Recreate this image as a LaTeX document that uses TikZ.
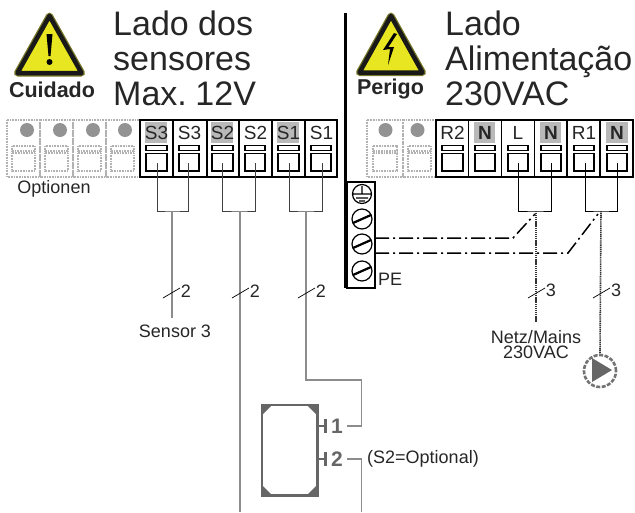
\documentclass[tikz,border=0pt]{standalone}
\usepackage{fontspec}
\setmainfont{Liberation Sans}
\definecolor{signyellow}{RGB}{232,230,32}
\definecolor{signedge}{RGB}{120,120,40}
\tikzset{%
	title/.style={inner sep=0pt,anchor=base west,font=\fontsize{34}{35}\selectfont,text=black!85},
	warning/.style={inner sep=0pt,font=\fontsize{21.5}{22}\selectfont\bfseries,text=black!85},
	small/.style={inner sep=0pt,font=\fontsize{18}{15}\selectfont,text=black!85},
	termlabel/.style={inner sep=0pt,font=\fontsize{19}{19}\selectfont,text=black!85},
	termcell/.style={black,line width=1.2pt},
	termframe/.style={black,line width=1.7pt},
	optcell/.style={gray!60,line width=1.6pt,dash pattern=on 1pt off 0.6pt},
	optdot/.style={fill=gray!85},
	graymark/.style={fill=gray!55},
	wire/.style={black!75,line width=1pt},
	stem/.style={gray!90,line width=1.2pt},
	livestem/.style={black!80,line width=1.6pt,dash pattern=on 1.2pt off 0.7pt},
	slash/.style={black,line width=0.7pt},
	earth/.style={black,line width=1.5pt,dash pattern=on 14pt off 4pt on 2pt off 4pt},
	sensorline/.style={black!60,line width=2.6pt},
	sign/.style={preaction={draw=signedge,line width=7pt,line join=round},fill=signyellow,draw=black!90,line width=4.5pt,line join=round},
}
\begin{document}
\begin{tikzpicture}[x=1pt,y=-1pt]
			\useasboundingbox (0,0) rectangle (635,512);
			
			%TITLES
			\node[title] (tla) at (113,35) {Lado dos};
			\node[title] (tlb) at (113,70) {sensores};
			\node[title] (tlc) at (113,105) {Max.\kern-4pt{} 12V};
			\node[title] (tra) at (445,35) {Lado};
			\node[title] (trb) at (445,70) {Alimentação};
			\node[title] (trc) at (445,105) {230VAC};
			
			%SIGNS
			\draw[sign] (49.5,16) -- (17.5,73) -- (81.5,73) -- cycle;
			\fill[black] (46.5,34) -- (52.5,34) -- (50.5,56) -- (48.5,56) -- cycle;
			\fill[black] (49.5,62) circle (3pt);
			\node[warning] (care) at (52,90) {Cuidado};
			\draw[sign] (391,16) -- (359.5,72.5) -- (422.5,72.5) -- cycle;
			\fill[black] (394,33) -- (383,50) -- (390,49) -- (388,65) -- (394,47) -- (388.5,47) -- (397,34) -- cycle;
			\node[warning] (danger) at (390.5,89) {Perigo};
			\draw[black,line width=3pt] (345.5,13) -- (345.5,288); %middle bar
			
			%OPTIONS LEFT
			\draw[optcell] (7,120) rectangle (40,177) (12,146) rectangle (35,151) (12,153) rectangle (35,171);
			\draw[optcell] (40,120) rectangle (73,177) (45,146) rectangle (68,151) (45,153) rectangle (68,171);
			\draw[optcell] (73,120) rectangle (106,177) (78,146) rectangle (101,151) (78,153) rectangle (101,171);
			\draw[optcell] (106,120) rectangle (140,177) (111,146) rectangle (134,151) (111,153) rectangle (134,171);
			\fill[optdot] (27,130) circle (7pt) (60,130) circle (7pt) (93,130) circle (7pt) (125,130) circle (7pt);
			\node[small] (options) at (54,189) {Optionen};
			
			%OPTIONS RIGHT
			\draw[optcell] (367,120) rectangle (403,177) (373,146) rectangle (397,151) (373,153) rectangle (397,171);
			\draw[optcell] (403,120) rectangle (436,177) (408,146) rectangle (431,151) (408,153) rectangle (431,171);
			\fill[optdot] (385.5,130) circle (7pt) (417.5,130) circle (7pt);
			
			%GRAY MARKS
			\fill[graymark] (145,122) rectangle (167,143);
			\fill[graymark] (211,122) rectangle (233,143);
			\fill[graymark] (277,122) rectangle (299,143);
			\fill[graymark] (474,122) rectangle (495,143);
			\fill[graymark] (540,122) rectangle (561,143);
			\fill[graymark] (606,122) rectangle (628,143);
			
			%SENSOR TERMINALS
			\draw[termframe] (140,120) rectangle (337.3,177) (173.3,120) -- (173.3,177) (206.7,120) -- (206.7,177) (239.3,120) -- (239.3,177) (271.7,120) -- (271.7,177) (305,120) -- (305,177);
			\draw[termcell] (146,145.5) rectangle (167,150.5) (146,153.5) rectangle (167,171);
			\draw[termcell] (179,145.5) rectangle (199,150.5) (179,153.5) rectangle (199,171);
			\draw[termcell] (212,145.5) rectangle (233,150.5) (212,153.5) rectangle (233,171);
			\draw[termcell] (245,145.5) rectangle (265,150.5) (245,153.5) rectangle (265,171);
			\draw[termcell] (278,145.5) rectangle (299,150.5) (278,153.5) rectangle (299,171);
			\draw[termcell] (311,145.5) rectangle (331,150.5) (311,153.5) rectangle (331,171);
			\node[termlabel] (sta) at (156.5,133) {S3};
			\node[termlabel] (stb) at (189.5,133) {S3};
			\node[termlabel] (ssa) at (222.5,133) {S2};
			\node[termlabel] (ssb) at (255.5,133) {S2};
			\node[termlabel] (soa) at (288.5,133) {S1};
			\node[termlabel] (sob) at (321.5,133) {S1};
			
			%POWER TERMINALS
			\draw[termframe] (436,120) rectangle (633,177) (468.5,120) -- (468.5,177) (501.5,120) -- (501.5,177) (534.5,120) -- (534.5,177) (567,120) -- (567,177) (600,120) -- (600,177);
			\draw[termcell] (442,145.5) rectangle (463,150.5) (442,153.5) rectangle (463,171);
			\draw[termcell] (475,145.5) rectangle (495,150.5) (475,153.5) rectangle (495,171);
			\draw[termcell] (508,145.5) rectangle (528,150.5) (508,153.5) rectangle (528,171);
			\draw[termcell] (541,145.5) rectangle (561,150.5) (541,153.5) rectangle (561,171);
			\draw[termcell] (574,145.5) rectangle (594,150.5) (574,153.5) rectangle (594,171);
			\draw[termcell] (607,145.5) rectangle (627,150.5) (607,153.5) rectangle (627,171);
			\node[termlabel] (rtwo) at (452.5,133) {R2};
			\node[termlabel] (nda) at (485,133) {\bfseries N};
			\node[termlabel] (line) at (518,133) {L};
			\node[termlabel] (ndb) at (551,133) {\bfseries N};
			\node[termlabel] (rone) at (584,133) {R1};
			\node[termlabel] (ndc) at (617,133) {\bfseries N};
			
			%PE STRIP
			\draw[black,line width=1.6pt] (347,182) rectangle (375,288);
			\draw[black,line width=1.2pt] (362,194) circle (9.5pt) (362,186) -- (362,194) (353,194) -- (371,194) (356,198) -- (368,198) (359,201) -- (365,201);
			\draw[black,line width=1.2pt] (362,219) circle (10pt) (362,244) circle (10pt) (362,271) circle (10pt);
			\draw[black,line width=2.2pt] (353,223) -- (371,215) (353,248) -- (371,240) (353,275) -- (371,267);
			\node[small,anchor=west] (pe) at (378,279) {PE};
			
			%WIRES
			\coordinate (sta1) at (157,163); \coordinate (stb1) at (188,163);
			\coordinate (ssa1) at (222,163); \coordinate (ssb1) at (255,163);
			\coordinate (soa1) at (289,163); \coordinate (sob1) at (322,163);
			\coordinate (line1) at (518,163); \coordinate (ndb1) at (551,163);
			\coordinate (rone1) at (585,163); \coordinate (ndc1) at (617,163);
			\coordinate (joinA) at (172,211); \coordinate (joinB) at (240,211);
			\coordinate (joinC) at (306,211); \coordinate (joinD) at (536,211);
			\coordinate (joinE) at (601,211);
			\draw[wire] (sta1) |- (joinA) -| (stb1);
			\draw[wire] (ssa1) |- (joinB) -| (ssb1);
			\draw[wire] (soa1) |- (joinC) -| (sob1);
			\draw[wire,black] (line1) |- (joinD) -| (ndb1);
			\draw[wire,black] (rone1) |- (joinE) -| (ndc1);
			
			%SENSORS
			\node[small] (sensorC) at (175,331) {Sensor 3};
			\node[inner sep=0pt,minimum width=55pt,minimum height=90pt] (sensor) at (289.5,450) {};
			\draw[sensorline] (sensor.north west) rectangle (sensor.south east);
			\fill[black!60] (262,405) -- (272,405) -- (262,415) -- cycle (317,405) -- (307,405) -- (317,415) -- cycle (262,495) -- (272,495) -- (262,485) -- cycle (317,495) -- (307,495) -- (317,485) -- cycle;
			\node[inner sep=0pt,minimum width=20pt,text=black!60,font=\fontsize{21}{21}\selectfont\bfseries] (pinA) at (337,426) {1};
			\node[inner sep=0pt,minimum width=20pt,text=black!60,font=\fontsize{21}{21}\selectfont\bfseries] (pinB) at (337,459) {2};
			\draw[sensorline,-|] (sensor.east |- pinA) -- (pinA.west);
			\draw[sensorline,-|] (sensor.east |- pinB) -- (pinB.west);
			\node[small,anchor=west] (optional) at (367,459) {(S2=Optional)};
			\coordinate (endA) at (172,318);
			\coordinate (endB) at (240,512);
			\coordinate (bendA) at (306,380);
			\coordinate (bendB) at (361.5,512);
			\draw[stem] (joinA) -- (endA);
			\draw[stem] (joinB) -- (endB);
			\draw[stem] (joinC) -- (bendA) -| (pinA.east -| bendB) -- (pinA.east);
			\draw[stem] (pinB.east) -| (bendB);
			
			%MAINS AND PUMP
			\node[small,align=center] (mains) at (536,344.5) {Netz/Mains\\230VAC};
			\node[circle,inner sep=0pt,minimum size=32pt,draw=black!55,line width=2.6pt,dash pattern=on 4pt off 1.5pt] (pump) at (600,371) {};
			\fill[black!60] (592,358) -- (612,370) -- (592,382) -- cycle;
			\coordinate (endD) at (536,323);
			\draw[livestem] (joinD) -- (endD);
			\draw[livestem] (joinE) -- (pump.north);
			
			%EARTH LINES
			\coordinate (stripA) at (375,238); \coordinate (stripB) at (375,253);
			\coordinate (kneeA) at (513,238); \coordinate (kneeB) at (568,253);
			\coordinate (topA) at (535,214); \coordinate (topB) at (598,214);
			\draw[earth] (stripA) -- (kneeA) -- (topA);
			\draw[earth] (stripB) -- (kneeB) -- (topB);
			
			%WIRE COUNT
			\draw[slash] (163,298) -- (180,288);
			\draw[slash] (232,298) -- (249,288);
			\draw[slash] (298,298) -- (315,288);
			\draw[slash] (528,298) -- (545,288);
			\draw[slash] (593,298) -- (610,288);
			\node[small] (cntA) at (186,291) {2};
			\node[small] (cntB) at (255,291) {2};
			\node[small] (cntC) at (321,291) {2};
			\node[small] (cntD) at (551,290) {3};
			\node[small] (cntE) at (616,290) {3};
			
			\end{tikzpicture}
\end{document}
